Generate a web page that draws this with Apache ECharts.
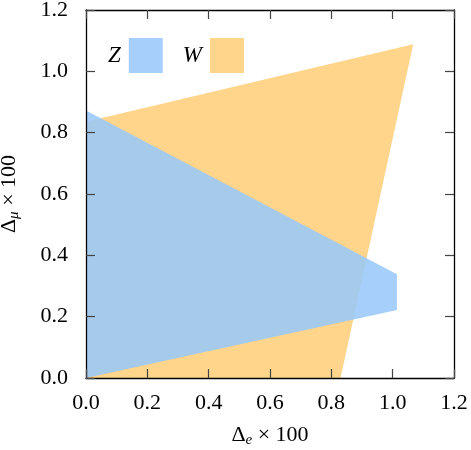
<!DOCTYPE html>
<html>
<head>
<meta charset="utf-8">
<script src="https://cdn.jsdelivr.net/npm/echarts@6/dist/echarts.min.js"></script>
<style>
  html, body { margin: 0; padding: 0; background: #fff; }
  #chart { width: 471px; height: 450px; }
</style>
</head>
<body>
<div id="chart"></div>
<script>
// polygon vertices
const wX = [0.0, 1.067, 0.83, 0.0];
const wY = [0.836, 1.088, 0.0, 0.0];
const zX = [0.0, 1.014, 1.014, 0.0];
const zY = [0.872, 0.338, 0.222, 0.0];
const ticks = [0, 0.2, 0.4, 0.6, 0.8, 1.0, 1.2];

const FONT = 'Liberation Serif';

function polySeries(name, xs, ys, color) {
    return {
        name: name,
        type: 'custom',
        itemStyle: { color: color },
        data: [[0, 0]],
        renderItem: (params, api) => {
            const pts = xs.map((x, i) => api.coord([x, ys[i]]));
            return {
                type: 'polygon',
                shape: { points: pts },
                style: { fill: color }
            };
        }
    };
}

function makeAxis(pos, show) {
    return {
        type: 'value',
        position: pos,
        min: ticks[0],
        max: ticks[ticks.length - 1],
        interval: 0.2,
        splitLine: { show: false },
        axisLine: { show: true, onZero: false, lineStyle: { color: '#000', width: 1.3 } },
        axisTick: { show: true, inside: true, length: 9, lineStyle: { color: '#444', width: 1.2 } },
        axisLabel: {
            show: show,
            fontFamily: FONT,
            fontSize: 22,
            color: '#000',
            formatter: v => v.toFixed(1)
        },
        z: 10
    };
}

const chart = echarts.init(document.getElementById('chart'));

const rich = {
    d: { fontFamily: FONT, fontSize: 22, color: '#000', lineHeight: 24, verticalAlign: 'top' },
    s: { fontFamily: FONT, fontSize: 15, fontStyle: 'italic', color: '#000', lineHeight: 15, padding: [12, 0, 0, 0], verticalAlign: 'bottom' }
};

const xBottom = makeAxis('bottom', true);
xBottom.name = '{d|Δ}{s|e}{d| × 100}';
xBottom.nameLocation = 'middle';
xBottom.nameGap = 46;
xBottom.nameTextStyle = { rich: rich };
xBottom.axisLabel.margin = 14;

const yLeft = makeAxis('left', true);
yLeft.name = '{d|Δ}{s|μ}{d| × 100}';
yLeft.nameLocation = 'middle';
yLeft.nameGap = 64;
yLeft.nameTextStyle = { rich: rich };
yLeft.axisLabel.margin = 18;

chart.setOption({
    animation: false,
    grid: { left: 86, right: 17, top: 10, bottom: 72, outerBoundsMode: 'none' },
    legend: {
        left: 103,
        top: 33,
        align: 'right',
        itemWidth: 34,
        itemHeight: 35,
        itemGap: 20,
        icon: 'rect',
        textStyle: { fontFamily: FONT, fontSize: 23, fontStyle: 'italic', color: '#000', padding: [0, 3, 0, 0] },
        data: ['Z', 'W']
    },
    xAxis: [xBottom, makeAxis('top', false)],
    yAxis: [yLeft, makeAxis('right', false)],
    series: [
        polySeries('W', wX, wY, 'rgb(255,213,140)'),
        polySeries('Z', zX, zY, 'rgba(150,200,250,0.85)')
    ]
});
</script>
</body>
</html>
